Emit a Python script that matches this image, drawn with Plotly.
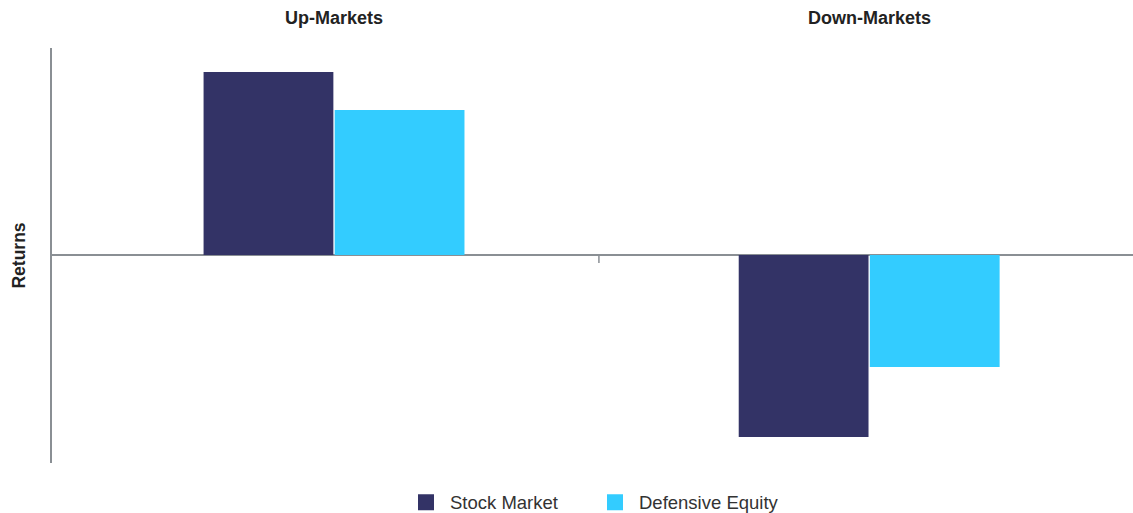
import plotly.graph_objects as go

categories = ["Up-Markets", "Down-Markets"]
series_names = ["Stock Market", "Defensive Equity"]
stock_market = [18.3, -18.2]
defensive_equity = [14.5, -11.2]
colors = ["#333366", "#33CCFF"]

FONT = "Liberation Sans, Arial, Helvetica, sans-serif"

fig = go.Figure()
for name, vals, col in zip(series_names, [stock_market, defensive_equity], colors):
    fig.add_trace(go.Bar(
        x=categories, y=vals, name=name, marker=dict(color=col, line=dict(width=0)),
        showlegend=False, hoverinfo="skip"))
for name, col in zip(series_names, colors):
    fig.add_trace(go.Scatter(
        x=[None], y=[None], mode="markers", name=name,
        marker=dict(symbol="square", size=18, color=col), showlegend=True))

for c in categories:
    fig.add_annotation(x=c, y=1, xref="x", yref="paper", yanchor="bottom", yshift=18,
                       text="<b>%s</b>" % c, showarrow=False,
                       font=dict(family=FONT, size=18, color="#222222"))

# category divider tick on the zero line
fig.add_shape(type="line", xref="x", yref="y", x0=0.495, x1=0.495, y0=0, y1=-0.8,
              line=dict(color="#8a8f94", width=1.5))

fig.update_layout(
    width=1133, height=513,
    margin=dict(l=52, r=0, t=48, b=50),
    paper_bgcolor="white", plot_bgcolor="white",
    barmode="group", bargap=0.51, bargroupgap=0.01,
    font=dict(family=FONT, color="#333333"),
    xaxis=dict(range=[-0.527, 1.493], showticklabels=False, showgrid=False,
               zeroline=False, showline=False, ticks=""),
    yaxis=dict(range=[-20.8, 20.7], showticklabels=False, showgrid=False,
               zeroline=True, zerolinecolor="#8a8f94", zerolinewidth=1.5,
               showline=True, linecolor="#8a8f94", linewidth=2, ticks="",
               title=dict(text="<b>Returns</b>", standoff=20,
                          font=dict(family=FONT, size=17.5, color="#222222"))),
    legend=dict(orientation="h", xref="container", yref="container",
                x=402 / 1133, xanchor="left", y=0.02, yanchor="middle",
                font=dict(family=FONT, size=18.5, color="#333333"),
                itemwidth=38, entrywidth=136, tracegroupgap=0, itemsizing="trace"),
    showlegend=True,
)

fig.write_html("out.html")
